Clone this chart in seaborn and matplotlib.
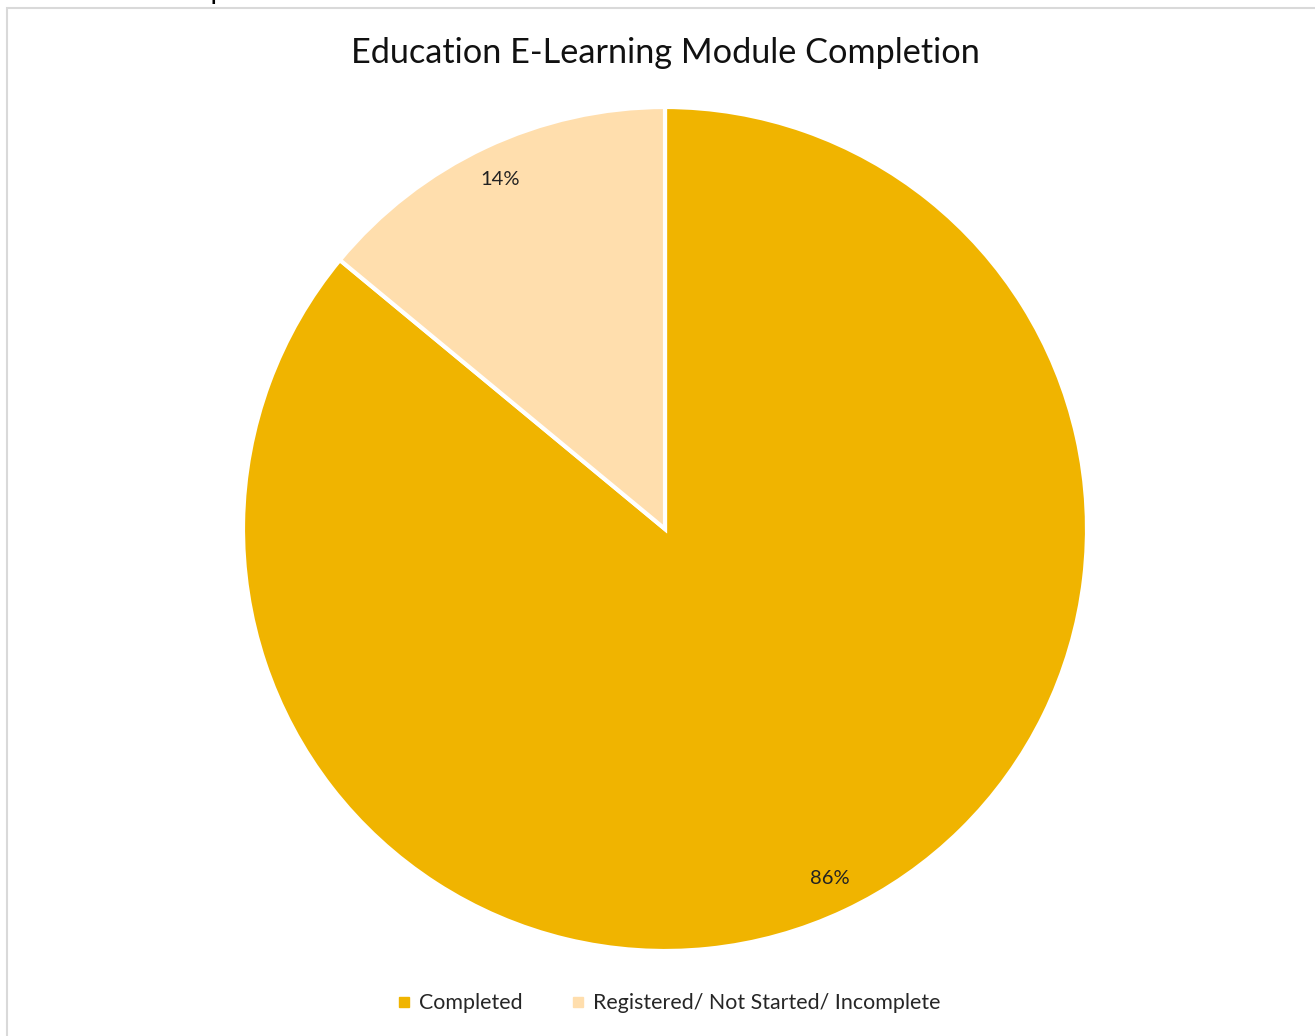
import matplotlib
matplotlib.use("Agg")
import matplotlib.pyplot as plt
import seaborn as sns
from matplotlib.patches import Rectangle
from matplotlib.lines import Line2D

categories = ["Completed", "Registered/ Not Started/ Incomplete"]
values = [86, 14]
colors = ["#F0B400", "#FFDEAD"]
title = "Education E-Learning Module Completion"

sns.set_theme(style="white")
plt.rcParams['font.family'] = ['Lato', 'DejaVu Sans']

W, H = 1315, 1036
fig = plt.figure(figsize=(W / 100, H / 100), dpi=100)
fig.patch.set_facecolor("white")

# frame border (chart area)
fig.add_artist(Rectangle((7 / W, -0.05), 1.2, (H - 8) / H + 0.05, transform=fig.transFigure,
                         fill=False, edgecolor="#D9D9D9", linewidth=1.5))
# cut-off text at the top left
fig.text(24 / W, 1 + 1.5 / H, "Education Completion", fontsize=20, color="black",
         ha="left", va="baseline")

# pie axes: center (665, 529), radius ~421
r = 422
ax = fig.add_axes([(665 - r) / W, (H - 529 - r) / H, 2 * r / W, 2 * r / H])
wedges, texts, autotexts = ax.pie(
    values, colors=colors, startangle=90, counterclock=False,
    autopct=lambda p: f"{p:.0f}%", pctdistance=0.915,
    wedgeprops=dict(edgecolor="white", linewidth=3),
    textprops=dict(fontsize=14.5, color="#222222"),
)
ax.set_xlim(-1, 1)
ax.set_ylim(-1, 1)
ax.set_aspect("equal")
ax.axis("off")

fig.text(665 / W, 1 - 53 / H, title, fontsize=24.7, ha="center", va="center", color="#111111")

handles = [Line2D([0], [0], marker="s", linestyle="none", markersize=7,
                  markerfacecolor=c, markeredgecolor=c) for c in colors]
fig.legend(handles, categories, loc="center", bbox_to_anchor=(668 / W, 1 - 1003 / H),
           ncol=2, frameon=False, fontsize=15.4, handletextpad=0.3, columnspacing=2.2,
           handlelength=0.8)

fig.savefig("out.png", dpi=100)
